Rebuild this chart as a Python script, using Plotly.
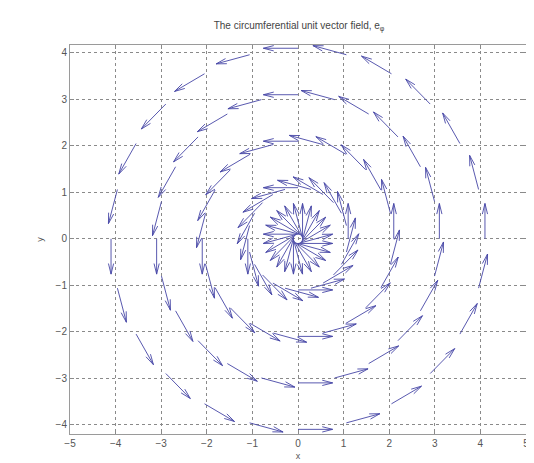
import numpy as np
import plotly.graph_objects as go

# Data: polar sample grid of the circumferential unit vector field e_phi
radii = [0.1, 1.1, 2.1, 3.1, 4.1]           # ring radii
angles_deg = list(range(0, 360, 15))         # sample angles (24 per ring)
arrow_scale = 0.76                           # quiver autoscale factor (unit vectors)
x_ticks = [-5, -4, -3, -2, -1, 0, 1, 2, 3, 4, 5]
y_ticks = [-4, -3, -2, -1, 0, 1, 2, 3, 4]

head_alpha = 0.30   # head length relative to arrow
head_beta = 0.25    # head half-width relative to head length

xs, ys = [], []
for r in radii:
    for a in angles_deg:
        t = np.deg2rad(a)
        x0, y0 = r * np.cos(t), r * np.sin(t)
        u, v = -np.sin(t) * arrow_scale, np.cos(t) * arrow_scale
        x1, y1 = x0 + u, y0 + v
        # shaft
        xs += [x0, x1, None]
        ys += [y0, y1, None]
        # head (MATLAB-style quiver head)
        hx1 = x1 - head_alpha * (u + head_beta * v)
        hy1 = y1 - head_alpha * (v - head_beta * u)
        hx2 = x1 - head_alpha * (u - head_beta * v)
        hy2 = y1 - head_alpha * (v + head_beta * u)
        xs += [hx1, x1, hx2, None]
        ys += [hy1, y1, hy2, None]

fig = go.Figure()
fig.add_trace(go.Scatter(x=xs, y=ys, mode="lines",
                         line=dict(color="#4646a6", width=0.9),
                         hoverinfo="skip", showlegend=False))

font_family = "Liberation Sans, Arial, sans-serif"
axis_common = dict(
    showgrid=True, gridcolor="#8a8a8a", griddash="dot", gridwidth=1,
    showline=True, linecolor="#9a9a9a", linewidth=1, mirror="ticks",
    ticks="inside", ticklen=4, tickcolor="#8a8a8a",
    zeroline=False,
    tickfont=dict(family=font_family, size=10, color="#555555"),
)

fig.update_layout(
    width=534, height=463,
    margin=dict(l=62, r=16, t=37, b=35),
    paper_bgcolor="white", plot_bgcolor="white",
    title=dict(text="The circumferential unit vector field, e<sub>φ</sub>",
               x=0.545, xanchor="center", y=0.963, yanchor="middle",
               font=dict(family=font_family, size=10, color="#444444")),
    xaxis=dict(range=[-5, 5], tickvals=x_ticks,
               title=dict(text="x", standoff=4,
                          font=dict(family=font_family, size=9, color="#555555")),
               **axis_common),
    yaxis=dict(range=[-4.2, 4.17], tickvals=y_ticks,
               title=dict(text="y", standoff=10,
                          font=dict(family=font_family, size=9, color="#555555")),
               **axis_common),
)

fig.write_html("out.html")
